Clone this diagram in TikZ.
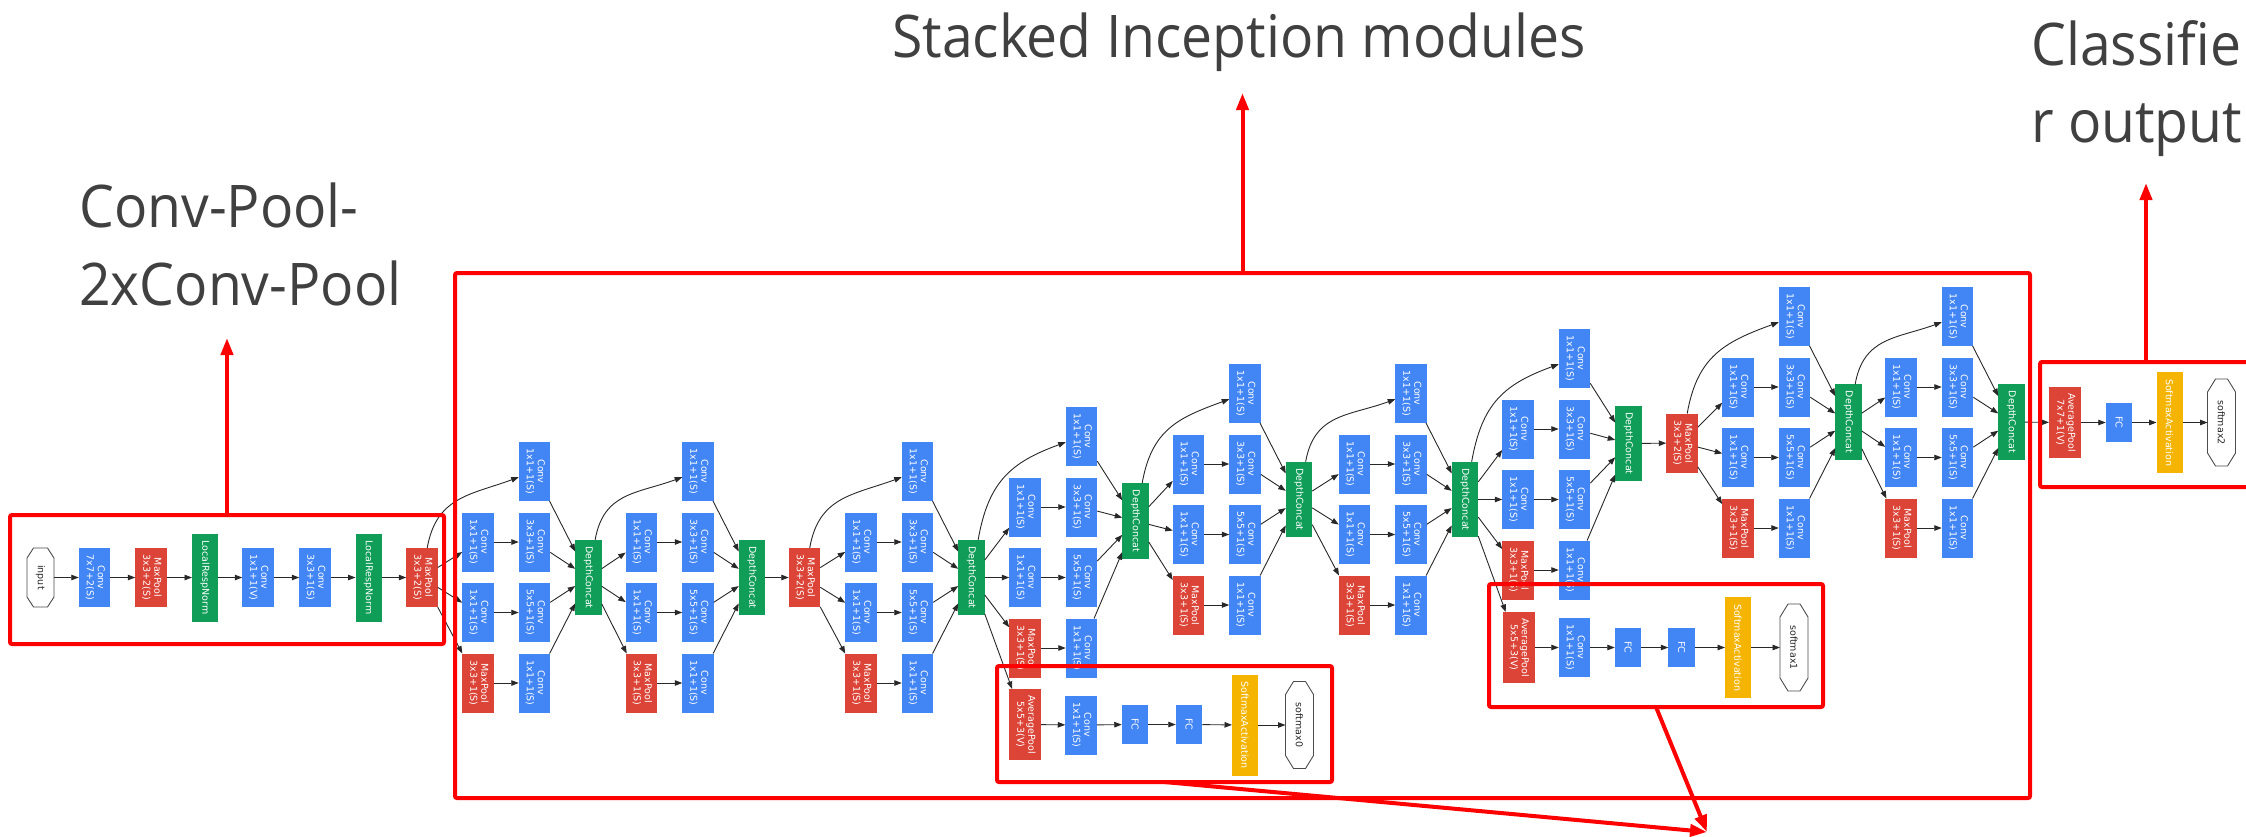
\documentclass[tikz,border=0pt]{standalone}
\usepackage{fontspec}
\usepackage{graphicx}
\usetikzlibrary{arrows.meta}

\newfontfamily\capfam{Open Sans}[FakeStretch=0.94]
\newfontfamily\boxfam{DejaVu Sans}
\newcommand\capfont{\capfam\fontsize{58.8}{70}\selectfont}
\newcommand\boxfont{\boxfam\fontsize{9.5}{11}\selectfont}

\definecolor{gblue}{RGB}{66,133,244}
\definecolor{gred}{RGB}{219,68,55}
\definecolor{ggreen}{RGB}{15,157,88}
\definecolor{gyellow}{RGB}{244,180,0}
\definecolor{capgray}{RGB}{64,64,64}
\definecolor{linkgray}{RGB}{40,40,40}

% rotated two-line and one-line layer labels
\newcommand\vlab[2]{\rotatebox{-90}{\begin{tabular}{@{}c@{}}#1\\#2\end{tabular}}}
\newcommand\hlab[1]{\rotatebox{-90}{#1}}

% octagonal outline around a terminal node: name, x chamfer, y chamfer
\newcommand\octagonpath[3]{%
  \draw[octline] ([xshift=#2]#1.north west) -- ([xshift=-#2]#1.north east)
    -- ([yshift=-#3]#1.north east) -- ([yshift=#3]#1.south east)
    -- ([xshift=-#2]#1.south east) -- ([xshift=#2]#1.south west)
    -- ([yshift=#3]#1.south west) -- ([yshift=-#3]#1.north west) -- cycle;}

% one inception module: name, input node, x of second column, y of top row, y of concat
\newcommand\incep[5]{%
  \node[nconv] (#1t)  at ({#3},{-(#4)}) {\vlab{Conv}{1x1+1(S)}};
  \node[nconv] (#1a1) at ({#3-56.5},{-(#4+70.5)}) {\vlab{Conv}{1x1+1(S)}};
  \node[nconv] (#1a2) at ({#3},{-(#4+70.5)}) {\vlab{Conv}{3x3+1(S)}};
  \node[nconv] (#1b1) at ({#3-56.5},{-(#4+141)}) {\vlab{Conv}{1x1+1(S)}};
  \node[nconv] (#1b2) at ({#3},{-(#4+141)}) {\vlab{Conv}{5x5+1(S)}};
  \node[npool] (#1p)  at ({#3-56.5},{-(#4+211.5)}) {\vlab{MaxPool}{3x3+1(S)}};
  \node[nconv] (#1c)  at ({#3},{-(#4+211.5)}) {\vlab{Conv}{1x1+1(S)}};
  \node[ncat]  (#1cat) at ({#3+54},{-(#5)}) {\hlab{DepthConcat}};
  \draw[link] (#2) to[out=80,in=200,looseness=1.15] (#1t);
  \draw[link] (#2) -- (#1a1);
  \draw[link] (#2) -- (#1b1);
  \draw[link] (#2) -- (#1p);
  \draw[link] (#1a1) -- (#1a2);
  \draw[link] (#1b1) -- (#1b2);
  \draw[link] (#1p) -- (#1c);
  \foreach \s in {t,a2,b2,c} \draw[link] (#1\s) -- (#1cat);
}

\begin{document}
\begin{tikzpicture}[x=1pt,y=1pt,
  blk/.style={rectangle, inner sep=0pt, outer sep=0pt, text=white, font=\boxfont},
  nconv/.style={blk, fill=gblue, minimum width=31.5pt, minimum height=59pt},
  npool/.style={blk, fill=gred, minimum width=31.5pt, minimum height=59pt},
  navg/.style={blk, fill=gred, minimum width=32pt, minimum height=71pt},
  ncat/.style={blk, fill=ggreen, minimum width=26.5pt, minimum height=75.5pt},
  nlrn/.style={blk, fill=ggreen, minimum width=26pt, minimum height=88pt},
  nfc/.style={blk, fill=gblue, minimum width=26.5pt, minimum height=39pt},
  nsoft/.style={blk, fill=gyellow, minimum width=26pt, minimum height=101pt},
  nterm/.style={rectangle, inner sep=0pt, outer sep=0pt, text=black!85, font=\boxfont,
    minimum width=28pt, minimum height=87pt},
  octline/.style={draw=black!70, line width=0.9pt},
  link/.style={draw=linkgray, line width=0.9pt, -{Triangle[length=7.5pt,width=5.5pt]}},
  redframe/.style={draw=red, line width=4pt, rounded corners=2pt, inner sep=0pt, outer sep=0pt},
  redarrow/.style={draw=red, line width=4pt, -{Triangle[length=17pt,width=12pt]}},
  caption/.style={font=\capfont, text=capgray, inner sep=0pt, anchor=base west}]

\useasboundingbox[fill=white] (0,-836) rectangle (2246,0);

% stem: conv, pool, norm, conv, conv, norm, pool
\node[nterm, minimum width=27pt, minimum height=59pt] (in0) at (40.5,-577.5) {\hlab{input}};
\node[nconv] (c1) at (94.5,-577.5) {\vlab{Conv}{7x7+2(S)}};
\node[npool] (p1) at (151,-577.5) {\vlab{MaxPool}{3x3+2(S)}};
\node[nlrn]  (n1) at (205,-577.5) {\hlab{LocalRespNorm}};
\node[nconv] (c2) at (258,-577.5) {\vlab{Conv}{1x1+1(V)}};
\node[nconv] (c3) at (315,-577.5) {\vlab{Conv}{3x3+1(S)}};
\node[nlrn]  (n2) at (368.5,-577.5) {\hlab{LocalRespNorm}};
\node[npool] (p2) at (422,-577.5) {\vlab{MaxPool}{3x3+2(S)}};
\octagonpath{in0}{6.5pt}{10pt}
\foreach \a/\b in {in0/c1,c1/p1,p1/n1,n1/c2,c2/c3,c3/n2,n2/p2}
  \draw[link] (\a) -- (\b);

% inception 3a, 3b and pooling
\incep{i3a}{p2}{534.5}{471.5}{577.5}
\incep{i3b}{i3acat}{698}{471.5}{577.5}
\node[npool] (p3) at (804.5,-577.5) {\vlab{MaxPool}{3x3+2(S)}};
\draw[link] (i3bcat) -- (p3);

% inception 4a to 4e
\incep{i4a}{p3}{917.5}{471.5}{577.5}
\incep{i4b}{i4acat}{1081.5}{436.5}{521}
\incep{i4c}{i4bcat}{1245}{393.5}{499.5}
\incep{i4d}{i4ccat}{1411}{393.5}{499.5}
\incep{i4e}{i4dcat}{1574.5}{358.5}{443.5}

% first auxiliary classifier
\node[navg]  (x0p)  at (1025,-724.5) {\vlab{AveragePool}{5x5+3(V)}};
\node[nconv] (x0c)  at (1081,-725) {\vlab{Conv}{1x1+1(S)}};
\node[nfc]   (x0f1) at (1135,-724.5) {\hlab{FC}};
\node[nfc]   (x0f2) at (1189,-724.5) {\hlab{FC}};
\node[nsoft] (x0s)  at (1245,-725) {\hlab{SoftmaxActivation}};
\node[nterm] (x0o)  at (1299.5,-725) {\hlab{softmax0}};
\octagonpath{x0o}{8pt}{13pt}
\draw[link] (i4acat) -- (x0p);
\foreach \a/\b in {x0p/x0c,x0c/x0f1,x0f1/x0f2,x0f2/x0s,x0s/x0o}
  \draw[link] (\a) -- (\b);

% second auxiliary classifier
\node[navg]  (x1p)  at (1518.5,-647.5) {\vlab{AveragePool}{5x5+3(V)}};
\node[nconv] (x1c)  at (1574.5,-647.5) {\vlab{Conv}{1x1+1(S)}};
\node[nfc]   (x1f1) at (1628,-647.5) {\hlab{FC}};
\node[nfc]   (x1f2) at (1681.5,-647.5) {\hlab{FC}};
\node[nsoft] (x1s)  at (1738,-647.5) {\hlab{SoftmaxActivation}};
\node[nterm] (x1o)  at (1794,-647.5) {\hlab{softmax1}};
\octagonpath{x1o}{8pt}{13pt}
\draw[link] (i4dcat) -- (x1p);
\foreach \a/\b in {x1p/x1c,x1c/x1f1,x1f1/x1f2,x1f2/x1s,x1s/x1o}
  \draw[link] (\a) -- (\b);

% pooling, inception 5a and 5b
\node[npool] (p4) at (1682,-443) {\vlab{MaxPool}{3x3+2(S)}};
\draw[link] (i4ecat) -- (p4);
\incep{i5a}{p4}{1794.5}{316.5}{422}
\incep{i5b}{i5acat}{1957.5}{316.5}{422}

% main classifier
\node[navg]  (fp) at (2065,-422.5) {\vlab{AveragePool}{7x7+1(V)}};
\node[nfc]   (ff) at (2119,-422.5) {\hlab{FC}};
\node[nsoft] (fs) at (2169.5,-422.5) {\hlab{SoftmaxActivation}};
\node[nterm] (fo) at (2221.5,-422.5) {\hlab{softmax2}};
\octagonpath{fo}{8pt}{13pt}
\foreach \a/\b in {i5bcat/fp,fp/ff,ff/fs,fs/fo}
  \draw[link] (\a) -- (\b);

% red frames around the parts
\node[redframe, minimum width=434pt, minimum height=129pt] (stemframe) at (227,-579.5) {};
\node[redframe, minimum width=1575pt, minimum height=525pt] (bigframe) at (1242.5,-535.5) {};
\node[redframe, minimum width=335pt, minimum height=116pt] (aux0frame) at (1164.5,-724) {};
\node[redframe, minimum width=334pt, minimum height=123pt] (aux1frame) at (1656,-645.5) {};
\node[redframe, minimum width=212pt, minimum height=125pt] (clsframe) at (2146,-424.5) {};

% captions and pointers
\node[caption] (capstemA) at (79,-227) {Conv-Pool-};
\node[caption] (capstemB) at (79,-305) {2xConv-Pool};
\node[caption, anchor=base] (captop) at (1239,-57) {Stacked Inception modules};
\node[caption] (capclsA) at (2031,-65) {Classifie};
\node[caption] (capclsB) at (2031,-142) {r output};

\coordinate (tipstem) at (227,-338);
\coordinate (tiptop) at (1242.5,-93);
\coordinate (tipcls) at (2146,-183);
\coordinate (tipaux) at (1707,-832);
\draw[redarrow] (stemframe.north) -- (tipstem);
\draw[redarrow] (bigframe.north) -- (tiptop);
\draw[redarrow] (clsframe.north) -- (tipcls);
\draw[redarrow] (aux0frame.south) -- (tipaux);
\draw[redarrow] (aux1frame.south) -- (tipaux);
\end{tikzpicture}
\end{document}
